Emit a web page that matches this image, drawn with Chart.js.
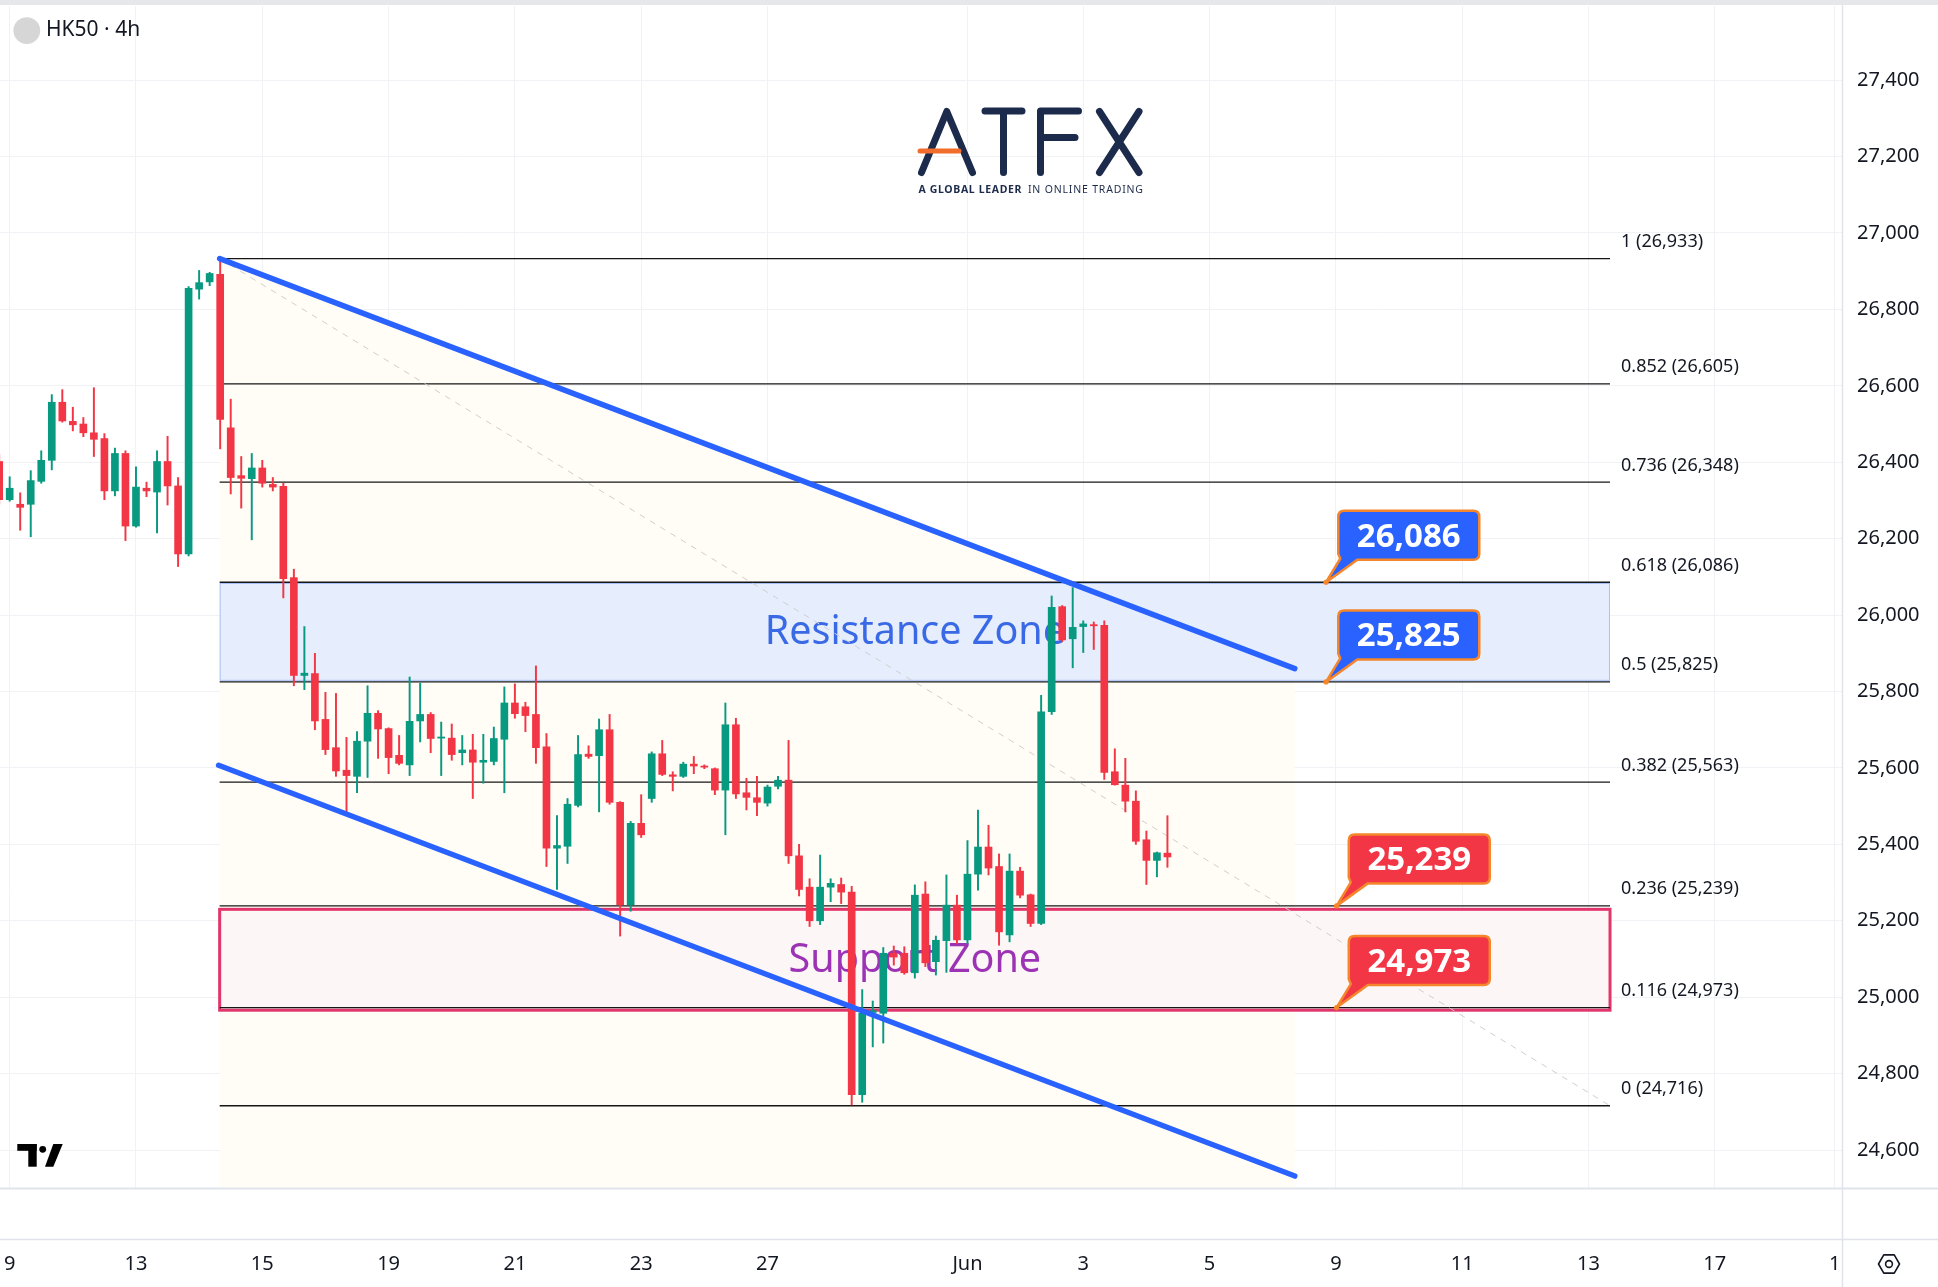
<!DOCTYPE html>
<html>
<head>
<meta charset="utf-8">
<script src="https://cdn.jsdelivr.net/npm/chart.js@4.4.1/dist/chart.umd.min.js"></script>
<style>
html, body { margin: 0; padding: 0; background: #fff; overflow: hidden; }
canvas { display: block; }
</style>
</head>
<body>
<canvas id="myChart" width="1938" height="1287"></canvas>
<script>
// HK50 4h candles, bar index starts at -1 (partly cut at the left edge)
var firstBar = -1;
var opens = [
  26402,26302,26290,26290,26350,26405,26557,26507,26500,26477,
  26462,26325,26423,26233,26332,26322,26402,26338,26160,26853,
  26872,26892,26490,26365,26357,26385,26342,26337,26098,25842,
  25847,25727,25653,25594,25578,25670,25743,25703,25633,25608,
  25723,25740,25678,25678,25640,25647,25615,25617,25675,25770,
  25760,25740,25655,25390,25395,25502,25636,25632,25700,25510,
  25242,25455,25520,25637,25582,25578,25610,25605,25598,25542,
  25713,25535,25522,25508,25552,25568,25370,25288,25200,25288,
  25295,25275,24745,24960,24958,25115,25115,25064,25270,25093,
  25148,25241,25150,25322,25393,25342,25163,25330,25268,25193,
  25747,26022,25938,25970,25975,25973,25590,25555,25513,25412,
  25358,25377
];
var highs = [
  26420,26362,26320,26378,26430,26577,26590,26544,26517,26595,
  26475,26437,26430,26388,26348,26430,26468,26360,26860,26902,
  26897,26933,26565,26415,26423,26405,26360,26345,26120,25970,
  25900,25798,25795,25680,25695,25815,25750,25705,25685,25838,
  25822,25745,25720,25715,25685,25688,25688,25707,25812,25820,
  25772,25867,25690,25475,25520,25685,25658,25728,25740,25512,
  25460,25530,25642,25672,25590,25615,25630,25608,25600,25770,
  25730,25573,25578,25555,25578,25672,25400,25310,25372,25310,
  25312,25290,25020,24990,25130,25134,25132,25294,25302,25160,
  25320,25267,25410,25490,25450,25375,25375,25340,25270,25790,
  26050,26025,26072,25985,25982,25985,25650,25625,25540,25435,
  25380,25475
];
var lows = [
  26290,26298,26222,26205,26345,26380,26505,26482,26467,26415,
  26302,26312,26195,26230,26310,26215,26288,26127,26155,26827,
  26862,26435,26317,26280,26197,26335,26325,26045,25815,25805,
  25700,25635,25578,25485,25535,25575,25625,25585,25608,25580,
  25668,25640,25580,25620,25608,25520,25560,25608,25535,25730,
  25695,25612,25342,25282,25350,25498,25625,25485,25505,25160,
  25225,25418,25510,25580,25540,25575,25585,25598,25530,25425,
  25520,25490,25475,25500,25545,25350,25265,25185,25190,25250,
  25245,24718,24725,24870,24880,25084,25060,25050,25080,25058,
  25065,25140,25140,25280,25320,25136,25145,25260,25185,25190,
  25740,25930,25862,25902,25910,25570,25555,25485,25400,25295,
  25315,25340
];
var closes = [
  26302,26332,26282,26352,26405,26557,26508,26498,26477,26460,
  26325,26423,26233,26335,26325,26402,26338,26160,26855,26870,
  26894,26512,26360,26358,26385,26345,26335,26095,25842,25848,
  25723,25648,25592,25580,25670,25743,25702,25627,25612,25722,
  25740,25677,25681,25635,25647,25615,25620,25677,25770,25742,
  25737,25653,25390,25397,25505,25635,25630,25700,25510,25242,
  25455,25425,25637,25583,25578,25610,25605,25602,25542,25713,
  25532,25523,25510,25550,25568,25370,25282,25200,25288,25298,
  25275,24745,24958,24965,25115,25105,25064,25267,25090,25149,
  25241,25150,25322,25393,25338,25171,25330,25267,25193,25747,
  26020,25935,25968,25977,25972,25588,25556,25513,25408,25358,
  25378,25367
];

// time axis (bar index -> label)
var xTickIdx = [0, 12, 24, 36, 48, 60, 72, 91, 102, 114, 126, 138, 150, 162, 173.4];
var xTickLabels = ['9','13','15','19','21','23','27','Jun','3','5','9','11','13','17','1'];
var yTicks = [24600,24800,25000,25200,25400,25600,25800,26000,26200,26400,26600,26800,27000,27200,27400];

// Fibonacci retracement
var fibRatios = ['1','0.852','0.736','0.618','0.5','0.382','0.236','0.116','0'];
var fibLevels = [26933,26605,26348,26086,25825,25563,25239,24973,24716];
var fibFrom = 19.95, fibTo = 152.05;

// descending channel: [barIndex, price]
var upperLine = [[19.95, 26933], [122.1, 25860]];
var lowerLine = [[19.85, 25607], [122.1, 24532]];

// zones [top, bottom]
var resistanceZone = [26084, 25828];
var supportZone = [25230, 24966];

// price callouts: anchor bar index, price
var calloutIdx = [125.07, 125.07, 126.07, 126.07];
var calloutPrice = [26086, 25825, 25239, 24973];

var UP = '#089981', DOWN = '#f23645';
var FONT = '"Noto Sans", "Liberation Sans", sans-serif';

var bodies = [], wicks = [], colors = [];
for (var k = 0; k < opens.length; k++) {
  var i = firstBar + k;
  var lo = Math.min(opens[k], closes[k]), hi = Math.max(opens[k], closes[k]);
  if (hi - lo < 3) hi = lo + 3;
  bodies.push({ x: i, y: [lo, hi] });
  wicks.push({ x: i, y: [lows[k], highs[k]] });
  colors.push(closes[k] >= opens[k] ? UP : DOWN);
}

var datasets = [];
fibLevels.forEach(function (lv) {
  datasets.push({
    type: 'line', data: [{ x: fibFrom, y: lv }, { x: fibTo, y: lv }],
    borderColor: '#161616', borderWidth: 1.3, pointRadius: 0, order: 10
  });
});
datasets.push({
  type: 'line', data: [{ x: fibFrom, y: fibLevels[0] }, { x: fibTo, y: fibLevels[fibLevels.length - 1] }],
  borderColor: '#cfcfcf', borderWidth: 1, borderDash: [6, 6], pointRadius: 0, order: 9
});
datasets.push({
  type: 'bar', data: wicks, grouped: false, barThickness: 1.3,
  backgroundColor: function (c) { return colors[c.dataIndex]; }, order: 5
});
datasets.push({
  type: 'bar', data: bodies, grouped: false, barThickness: 7, minBarLength: 1,
  backgroundColor: function (c) { return colors[c.dataIndex]; }, order: 4
});
[upperLine, lowerLine].forEach(function (ln) {
  datasets.push({
    type: 'line', data: ln.map(function (p) { return { x: p[0], y: p[1] }; }),
    borderColor: '#2962ff', borderWidth: 5.5, borderCapStyle: 'round', pointRadius: 0, order: 1
  });
});

function px(chart, v) { return chart.scales.x.getPixelForValue(v); }
function py(chart, v) { return chart.scales.y.getPixelForValue(v); }

var backdrop = {
  id: 'backdrop',
  beforeDraw: function (chart) {
    var ctx = chart.ctx;
    ctx.save();
    ctx.fillStyle = '#ffffff';
    ctx.fillRect(0, 0, chart.width, chart.height);
    ctx.fillStyle = '#e6e7ea';
    ctx.fillRect(0, 0, chart.width, 5);
    ctx.restore();
  },
  beforeDatasetsDraw: function (chart) {
    var ctx = chart.ctx, a = chart.chartArea;
    ctx.save();
    ctx.beginPath();
    ctx.rect(a.left, a.top, a.right - a.left, a.bottom - a.top);
    ctx.clip();
    // cream background under the channel
    ctx.fillStyle = '#fffdf6';
    ctx.beginPath();
    ctx.moveTo(px(chart, upperLine[0][0]), py(chart, upperLine[0][1]));
    ctx.lineTo(px(chart, upperLine[1][0]), py(chart, upperLine[1][1]));
    ctx.lineTo(px(chart, upperLine[1][0]), a.bottom);
    ctx.lineTo(px(chart, upperLine[0][0]), a.bottom);
    ctx.closePath();
    ctx.fill();

    var x0 = px(chart, fibFrom), x1 = px(chart, fibTo);
    // resistance zone
    var rt = py(chart, resistanceZone[0]), rb = py(chart, resistanceZone[1]);
    ctx.fillStyle = '#e6eefd';
    ctx.fillRect(x0, rt, x1 - x0, rb - rt);
    ctx.strokeStyle = '#a9c2f6';
    ctx.lineWidth = 1;
    ctx.strokeRect(x0 + 0.5, rt + 0.5, x1 - x0 - 1, rb - rt - 1);
    ctx.fillStyle = '#3a69e6';
    ctx.font = '39.5px ' + FONT;
    ctx.textAlign = 'center';
    ctx.textBaseline = 'alphabetic';
    ctx.fillText('Resistance Zone', (x0 + x1) / 2, (rt + rb) / 2 + 12);

    // support zone
    var st = py(chart, supportZone[0]), sb = py(chart, supportZone[1]);
    ctx.fillStyle = '#fdf6f7';
    ctx.fillRect(x0, st, x1 - x0, sb - st);
    ctx.fillStyle = '#9c33b4';
    ctx.fillText('Support Zone', (x0 + x1) / 2, (st + sb) / 2 + 12);
    ctx.strokeStyle = '#e2356b';
    ctx.lineWidth = 3;
    ctx.strokeRect(x0, st, x1 - x0, sb - st);
    ctx.restore();
  }
};

function callout(ctx, ax, ay, text, fill) {
  var w = 141, h = 49, r = 6;
  var bx = ax + 12.2, by = ay - 22.5 - h;
  ctx.save();
  ctx.lineJoin = 'round';
  ctx.beginPath();
  ctx.moveTo(bx + r, by);
  ctx.lineTo(bx + w - r, by);
  ctx.quadraticCurveTo(bx + w, by, bx + w, by + r);
  ctx.lineTo(bx + w, by + h - r);
  ctx.quadraticCurveTo(bx + w, by + h, bx + w - r, by + h);
  ctx.lineTo(bx + 19, by + h);
  ctx.lineTo(ax, ay);
  ctx.lineTo(bx + 2, by + h - 1);
  ctx.lineTo(bx, by + h - r);
  ctx.lineTo(bx, by + r);
  ctx.quadraticCurveTo(bx, by, bx + r, by);
  ctx.closePath();
  ctx.fillStyle = fill;
  ctx.fill();
  ctx.strokeStyle = '#f5862b';
  ctx.lineWidth = 2.5;
  ctx.stroke();
  ctx.beginPath();
  ctx.arc(ax, ay, 2.6, 0, Math.PI * 2);
  ctx.fillStyle = '#f5862b';
  ctx.fill();
  ctx.fillStyle = '#ffffff';
  ctx.font = 'bold 33px ' + FONT;
  ctx.textAlign = 'center';
  ctx.textBaseline = 'alphabetic';
  ctx.fillText(text, bx + w / 2, by + h / 2 + 11.5);
  ctx.restore();
}

function fitText(ctx, text, x, y, width) {
  ctx.letterSpacing = '0px';
  var m = ctx.measureText(text).width;
  var sp = (width - m) / (text.length - 1);
  ctx.letterSpacing = sp.toFixed(2) + 'px';
  ctx.fillText(text, x, y);
  ctx.letterSpacing = '0px';
}

var overlay = {
  id: 'overlay',
  afterDraw: function (chart) {
    var ctx = chart.ctx, W = chart.width, H = chart.height;
    ctx.save();
    // pane separators and price axis border
    ctx.strokeStyle = '#e0e3eb';
    ctx.lineWidth = 2;
    ctx.beginPath(); ctx.moveTo(0, 1188.5); ctx.lineTo(W, 1188.5); ctx.stroke();
    ctx.lineWidth = 1.5;
    ctx.beginPath(); ctx.moveTo(0, 1239.5); ctx.lineTo(W, 1239.5); ctx.stroke();
    ctx.beginPath(); ctx.moveTo(1842.5, 5); ctx.lineTo(1842.5, H); ctx.stroke();

    // fib labels
    ctx.fillStyle = '#131722';
    ctx.font = '18px ' + FONT;
    ctx.textAlign = 'left';
    ctx.textBaseline = 'alphabetic';
    var lx = px(chart, fibTo) + 11;
    fibLevels.forEach(function (lv, n) {
      ctx.fillText(fibRatios[n] + ' (' + lv.toLocaleString('en-US') + ')', lx, py(chart, lv) - 11.5);
    });

    // callouts
    calloutPrice.forEach(function (p, n) {
      callout(ctx, px(chart, calloutIdx[n]), py(chart, p), p.toLocaleString('en-US'), n < 2 ? '#2962ff' : '#f23645');
    });

    // header
    ctx.fillStyle = '#d6d6d6';
    ctx.beginPath(); ctx.arc(26.8, 30.6, 13.4, 0, Math.PI * 2); ctx.fill();
    ctx.fillStyle = '#131722';
    ctx.font = '21px ' + FONT;
    ctx.textBaseline = 'middle';
    ctx.fillText('HK50 \u00b7 4h', 46, 30);

    // ATFX logo
    ctx.strokeStyle = '#1c2b4b';
    ctx.lineWidth = 7;
    ctx.lineCap = 'round';
    ctx.lineJoin = 'round';
    ctx.beginPath();
    ctx.moveTo(921.5, 172.5); ctx.lineTo(946.8, 111.5); ctx.lineTo(972.5, 172.5);
    ctx.moveTo(985, 111); ctx.lineTo(1022, 111);
    ctx.moveTo(1003.5, 111); ctx.lineTo(1003.5, 172.5);
    ctx.moveTo(1078.5, 111); ctx.lineTo(1040.5, 111); ctx.lineTo(1040.5, 172.5);
    ctx.moveTo(1040.5, 137.5); ctx.lineTo(1075, 137.5);
    ctx.moveTo(1099.5, 111.5); ctx.lineTo(1139, 172.5);
    ctx.moveTo(1139, 111.5); ctx.lineTo(1099.5, 172.5);
    ctx.stroke();
    ctx.strokeStyle = '#f26c2c';
    ctx.lineWidth = 5;
    ctx.beginPath(); ctx.moveTo(920, 151); ctx.lineTo(959, 151); ctx.stroke();
    ctx.fillStyle = '#1c2b4b';
    ctx.textBaseline = 'middle';
    ctx.font = 'bold 10.5px ' + FONT;
    fitText(ctx, 'A GLOBAL LEADER', 918.5, 190.5, 103);
    ctx.font = '10.5px ' + FONT;
    fitText(ctx, 'IN ONLINE TRADING', 1028, 190.5, 115);

    // TradingView mark
    ctx.fillStyle = '#000000';
    ctx.fillRect(17.3, 1144, 19.4, 6.8);
    ctx.fillRect(28.3, 1144, 8.4, 22.7);
    ctx.beginPath(); ctx.arc(42.7, 1149.3, 3.4, 0, Math.PI * 2); ctx.fill();
    ctx.beginPath();
    ctx.moveTo(53.3, 1144); ctx.lineTo(62.7, 1144); ctx.lineTo(53.3, 1166.7); ctx.lineTo(45, 1166.7);
    ctx.closePath(); ctx.fill();

    // settings icon
    ctx.strokeStyle = '#131722';
    ctx.lineWidth = 1.6;
    ctx.beginPath();
    for (var s = 0; s < 6; s++) {
      var ang = Math.PI / 3 * s;
      var hx = 1889 + 10.5 * Math.cos(ang), hy = 1264 + 10.5 * Math.sin(ang);
      if (s === 0) ctx.moveTo(hx, hy); else ctx.lineTo(hx, hy);
    }
    ctx.closePath(); ctx.stroke();
    ctx.beginPath(); ctx.arc(1889, 1264, 3.4, 0, Math.PI * 2); ctx.stroke();
    ctx.restore();
  }
};

new Chart(document.getElementById('myChart'), {
  type: 'bar',
  data: { datasets: datasets },
  options: {
    responsive: false,
    animation: false,
    events: [],
    layout: { padding: { top: 6, left: 0, right: 0, bottom: 0 } },
    plugins: { legend: { display: false }, tooltip: { enabled: false } },
    scales: {
      x: {
        type: 'linear', position: 'bottom', offset: false,
        min: -0.92, max: 174.09,
        afterFit: function (s) { s.height = 99; s.paddingLeft = 0; s.paddingRight = 0; },
        afterBuildTicks: function (s) { s.ticks = xTickIdx.map(function (v) { return { value: v }; }); },
        grid: { color: '#f0f2f6', lineWidth: 1, drawTicks: false, offset: false },
        border: { display: false },
        ticks: {
          autoSkip: false, maxRotation: 0, padding: 64,
          color: '#131722', font: { family: FONT, size: 20 },
          callback: function (v, n) { return xTickLabels[n]; }
        }
      },
      y: {
        type: 'linear', position: 'right', beginAtZero: false,
        min: 24500.7, max: 27594,
        afterFit: function (s) { s.width = 96; s.paddingTop = 0; s.paddingBottom = 0; },
        afterBuildTicks: function (s) { s.ticks = yTicks.map(function (v) { return { value: v }; }); },
        grid: { color: '#f0f2f6', lineWidth: 1, drawTicks: false },
        border: { display: false },
        ticks: {
          padding: 15, crossAlign: 'near',
          color: '#131722', font: { family: FONT, size: 20 },
          callback: function (v) { return v.toLocaleString('en-US'); }
        }
      }
    }
  },
  plugins: [backdrop, overlay]
});
</script>
</body>
</html>
